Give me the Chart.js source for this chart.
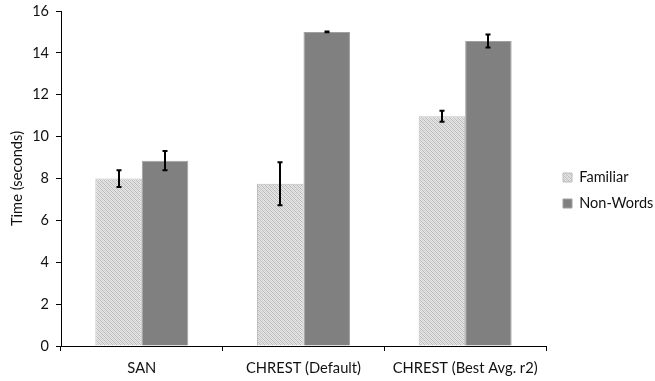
<!DOCTYPE html>
<html>
<head>
<meta charset="utf-8">
<script src="https://cdn.jsdelivr.net/npm/chart.js@4/dist/chart.umd.min.js"></script>
<style>
  html, body { margin: 0; padding: 0; background: #ffffff; }
  #wrap { width: 655px; height: 381px; }
</style>
</head>
<body>
<div id="wrap"><canvas id="c" width="655" height="381"></canvas></div>
<script>
const categories = ['SAN', 'CHREST (Default)', 'CHREST (Best Avg. r2)'];
const familiar = [8.0, 7.75, 10.97];
const nonWords = [8.85, 15.0, 14.57];
const familiarErr = [0.4, 1.03, 0.26];
const nonWordsErr = [0.46, 0.02, 0.31];
const seriesNames = ['Familiar', 'Non-Words'];
const yMin = 0, yMax = 16, yStep = 2;
const yTitle = 'Time (seconds)';

function makeHatch() {
  const t = document.createElement('canvas');
  t.width = 4; t.height = 4;
  const g = t.getContext('2d');
  const img = g.createImageData(4, 4);
  for (let y = 0; y < 4; y++) {
    for (let x = 0; x < 4; x++) {
      let v;
      if (((x - y) & 3) === 0) v = 185;
      else if (((x + y) & 1) === 0) v = 210;
      else v = 230;
      const i = (y * 4 + x) * 4;
      img.data[i] = v; img.data[i + 1] = v; img.data[i + 2] = v; img.data[i + 3] = 255;
    }
  }
  g.putImageData(img, 0, 0);
  return document.getElementById('c').getContext('2d').createPattern(t, 'repeat');
}
const hatch = makeHatch();

const errorBars = {
  id: 'errorBars',
  afterDatasetsDraw(chart) {
    const ctx = chart.ctx;
    const y = chart.scales.y;
    ctx.save();
    ctx.strokeStyle = '#000000';
    ctx.lineWidth = 2;
    chart.data.datasets.forEach((ds, di) => {
      const meta = chart.getDatasetMeta(di);
      meta.data.forEach((bar, i) => {
        const v = ds.data[i], e = ds.errors[i];
        const x = Math.round(bar.x);
        const yt = y.getPixelForValue(v + e);
        const yb = y.getPixelForValue(v - e);
        ctx.beginPath();
        ctx.moveTo(x, yt); ctx.lineTo(x, yb);
        ctx.moveTo(x - 2.5, yt); ctx.lineTo(x + 2.5, yt);
        ctx.moveTo(x - 2.5, yb); ctx.lineTo(x + 2.5, yb);
        ctx.stroke();
      });
    });
    ctx.restore();
  }
};

// place the library's legend to the right of the plot area
const legendPlacer = {
  id: 'legendPlacer',
  afterLayout(chart) {
    const lg = chart.legend;
    if (!lg) return;
    const lo = lg.options.labels;
    const p = lo.padding;
    const itemH = Math.max(lo.font.size, lo.boxHeight);
    const w = lg.width, h = lg.height;
    lg.left = chart.chartArea.right + 17 - p;
    lg.right = lg.left + w;
    const firstCenter = chart.height / 2 - (itemH + p) / 2;
    lg.top = firstCenter - itemH / 2 - p;
    lg.bottom = lg.top + h;
    if (lg.adjustHitBoxes) lg.adjustHitBoxes();
  }
};

const family = 'Lato, "Open Sans", sans-serif';

new Chart(document.getElementById('c'), {
  type: 'bar',
  data: {
    labels: categories,
    datasets: [
      { label: seriesNames[0], data: familiar, errors: familiarErr,
        backgroundColor: hatch, borderColor: '#bdbdbd', borderWidth: 1 },
      { label: seriesNames[1], data: nonWords, errors: nonWordsErr,
        backgroundColor: '#808080', borderColor: '#a0a0a0', borderWidth: 1 }
    ]
  },
  options: {
    responsive: false,
    animation: false,
    devicePixelRatio: 1,
    layout: { padding: { top: 11, right: 109, bottom: 0, left: 0 } },
    datasets: { bar: { categoryPercentage: 0.575, barPercentage: 1.0 } },
    plugins: {
      legend: {
        position: 'chartArea',
        align: 'start',
        labels: {
          color: '#111111',
          font: { family: family, size: 14.5 },
          boxWidth: 9, boxHeight: 9, padding: 11.5
        }
      },
      tooltip: { enabled: false }
    },
    scales: {
      x: {
        afterFit(s) { s.height = 35; s.paddingLeft = 0; s.paddingRight = 0; },
        grid: { display: true, drawOnChartArea: false, drawTicks: true, tickLength: 5, color: '#000000', offset: true },
        border: { display: true, color: '#000000', width: 1 },
        ticks: { color: '#111111', font: { family: family, size: 14.7 }, padding: 8 }
      },
      y: {
        min: yMin, max: yMax,
        afterFit(s) { s.width = 61; s.paddingTop = 0; s.paddingBottom = 0; },
        grid: { display: true, drawOnChartArea: false, drawTicks: true, tickLength: 5, color: '#000000' },
        border: { display: true, color: '#000000', width: 1 },
        ticks: { stepSize: yStep, color: '#111111', font: { family: family, size: 14.5 }, padding: 7 },
        title: { display: true, text: yTitle, color: '#111111', font: { family: family, size: 14.7 }, padding: { top: 8, bottom: 0 } }
      }
    }
  },
  plugins: [errorBars, legendPlacer]
});
</script>
</body>
</html>
